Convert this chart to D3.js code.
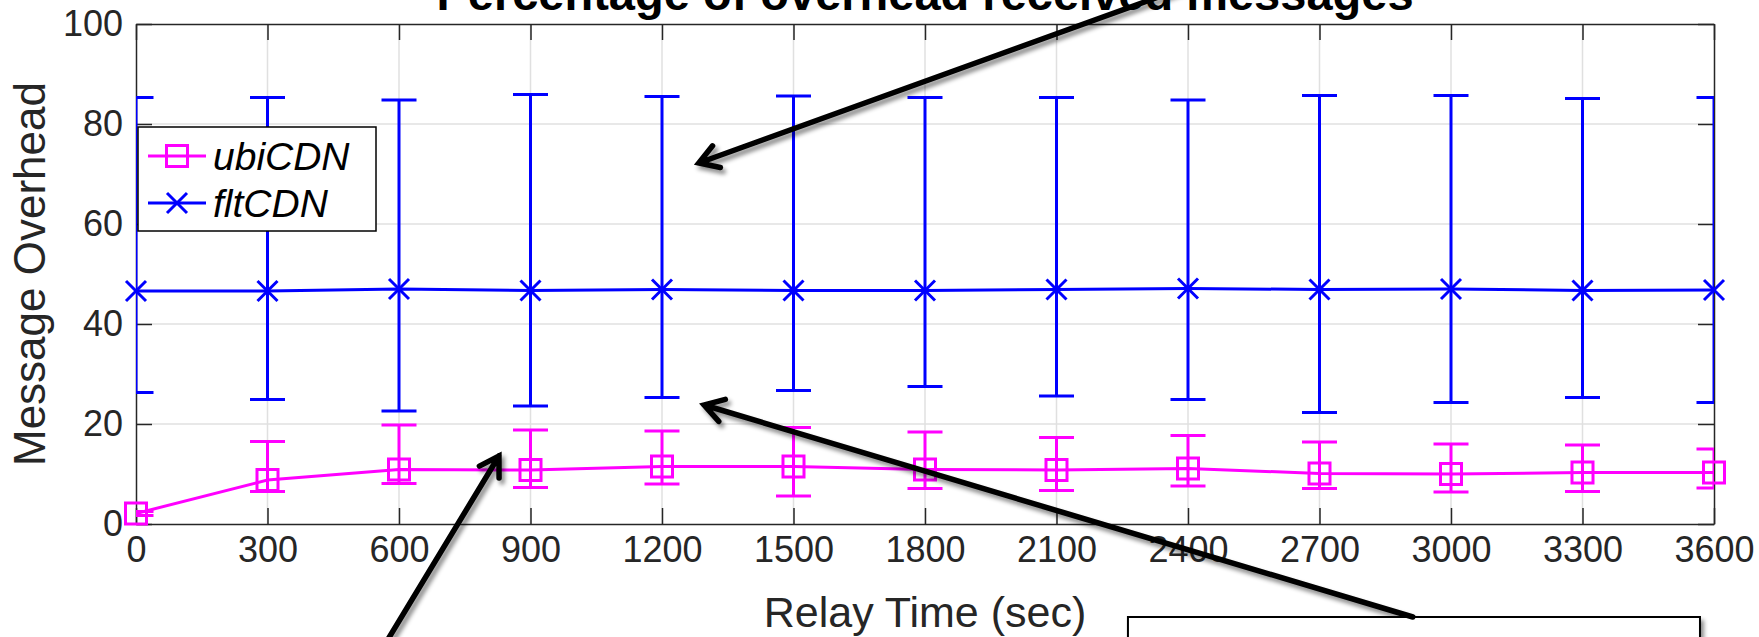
<!DOCTYPE html>
<html><head><meta charset="utf-8">
<script src="https://cdn.jsdelivr.net/npm/d3@7"></script>
<style>
body{margin:0;background:#fff}
svg{display:block}
text{font-family:"Liberation Sans",Arial,Helvetica,sans-serif}
</style>
</head><body>
<svg id="c" width="1759" height="637"></svg>
<script>
// ---- data ----
const times    = [0,300,600,900,1200,1500,1800,2100,2400,2700,3000,3300,3600];
const xTicks   = [0,300,600,900,1200,1500,1800,2100,2400,2700,3000,3300,3600];
const yTicks   = [0,20,40,60,80,100];
const seriesNames = ["ubiCDN","fltCDN"];
const ubiMean  = [2.1, 8.8,10.9,10.8,11.5,11.5,10.9,10.8,11.1,10.1,10.0,10.3,10.3];
const ubiLow   = [1.7, 6.5, 8.1, 7.3, 8.0, 5.6, 7.1, 6.7, 7.6, 7.1, 6.4, 6.5, 7.2];
const ubiHigh  = [2.5,16.5,19.8,18.8,18.6,19.3,18.4,17.3,17.7,16.4,16.0,15.8,15.0];
const fltMean  = [46.6,46.6,47.0,46.7,46.9,46.7,46.7,46.9,47.1,46.9,47.0,46.7,46.8];
const fltLow   = [26.3,24.9,22.6,23.6,25.3,26.7,27.5,25.6,24.9,22.3,24.3,25.3,24.3];
const fltHigh  = [85.3,85.3,84.8,85.9,85.5,85.6,85.3,85.3,84.8,85.7,85.7,85.1,85.3];
const titleText = "Percentage of overhead received messages";
const xLabel = "Relay Time (sec)";
const yLabel = "Message Overhead";

// ---- layout ----
const W=1759,H=637;
const P={l:136,t:24,r:1714,b:524};
const x=d3.scaleLinear().domain([0,3600]).range([P.l,P.r]);
const y=d3.scaleLinear().domain([0,100]).range([P.b,P.t]);
const AX="#262626", MAG="#ff00ff", BLU="#0000ff";
const svg=d3.select("#c");
const defs=svg.append("defs");
defs.append("clipPath").attr("id","plot").append("rect")
  .attr("x",P.l).attr("y",P.t).attr("width",P.r-P.l).attr("height",P.b-P.t);
const f=defs.append("filter").attr("id","shadow").attr("x","-20%").attr("y","-20%").attr("width","140%").attr("height","140%");
f.append("feDropShadow").attr("dx",3).attr("dy",4).attr("stdDeviation",2.2)
  .attr("flood-color","#000").attr("flood-opacity",0.45);

// grid
const grid=svg.append("g").attr("stroke","#e0e0e0").attr("stroke-width",1.5);
grid.selectAll(".gx").data(xTicks.slice(1,-1)).join("line")
  .attr("x1",d=>x(d)).attr("x2",d=>x(d)).attr("y1",P.t).attr("y2",P.b);
grid.selectAll(".gy").data(yTicks.slice(1,-1)).join("line")
  .attr("y1",d=>y(d)).attr("y2",d=>y(d)).attr("x1",P.l).attr("x2",P.r);

// axes
function styleAxis(g){
  g.select(".domain").attr("stroke",AX).attr("stroke-width",1.5);
  g.selectAll(".tick line").attr("stroke",AX).attr("stroke-width",1.5);
  g.selectAll(".tick text").attr("fill",AX).style("font-size","36px");
}
svg.append("g").attr("transform",`translate(0,${P.b})`)
  .call(d3.axisBottom(x).tickValues(xTicks).tickSize(-16).tickSizeOuter(0).tickPadding(12).tickFormat(d3.format("d")))
  .call(styleAxis);
svg.append("g").attr("transform",`translate(0,${P.t})`)
  .call(d3.axisTop(x).tickValues(xTicks).tickSize(-16).tickSizeOuter(0).tickFormat(""))
  .call(styleAxis);
svg.append("g").attr("transform",`translate(${P.l},0)`)
  .call(d3.axisLeft(y).tickValues(yTicks).tickSize(-16).tickSizeOuter(0).tickPadding(13).tickFormat(d3.format("d")))
  .call(styleAxis);
svg.append("g").attr("transform",`translate(${P.r},0)`)
  .call(d3.axisRight(y).tickValues(yTicks).tickSize(-16).tickSizeOuter(0).tickFormat(""))
  .call(styleAxis);

// labels
svg.append("text").attr("x",(P.l+P.r)/2).attr("y",627).attr("text-anchor","middle")
  .attr("fill",AX).style("font-size","43px").text(xLabel);
svg.append("text").attr("transform",`translate(45,${(P.t+P.b)/2}) rotate(-90)`).attr("text-anchor","middle")
  .attr("fill",AX).style("font-size","44px").text(yLabel);
svg.append("text").attr("x",(P.l+P.r)/2).attr("y",10).attr("text-anchor","middle")
  .attr("fill","#000").style("font-size","47px").style("font-weight","bold").text(titleText);

// series
const series=[
  {name:seriesNames[0],mean:ubiMean,lo:ubiLow,hi:ubiHigh,color:MAG,marker:"square"},
  {name:seriesNames[1],mean:fltMean,lo:fltLow,hi:fltHigh,color:BLU,marker:"x"}
];
const capW=17.5;
function drawMarker(g,type,color){
  if(type==="square"){
    g.append("rect").attr("x",-10.5).attr("y",-10.5).attr("width",21).attr("height",21)
      .attr("fill","none").attr("stroke",color).attr("stroke-width",3);
  } else {
    g.append("path").attr("d","M-10,-10L10,10M-10,10L10,-10")
      .attr("fill","none").attr("stroke",color).attr("stroke-width",3);
  }
}
series.forEach(s=>{
  const clipped=svg.append("g").attr("clip-path","url(#plot)");
  const idx=d3.range(times.length);
  clipped.append("path").datum(idx)
    .attr("d",d3.line().x(i=>x(times[i])).y(i=>y(s.mean[i])))
    .attr("fill","none").attr("stroke",s.color).attr("stroke-width",3);
  const eb=clipped.append("g").attr("stroke",s.color).attr("stroke-width",3);
  idx.forEach(i=>{
    const cx=x(times[i]);
    eb.append("line").attr("x1",cx).attr("x2",cx).attr("y1",y(s.lo[i])).attr("y2",y(s.hi[i]));
    eb.append("line").attr("x1",cx-capW).attr("x2",cx+capW).attr("y1",y(s.lo[i])).attr("y2",y(s.lo[i]));
    eb.append("line").attr("x1",cx-capW).attr("x2",cx+capW).attr("y1",y(s.hi[i])).attr("y2",y(s.hi[i]));
  });
  idx.forEach(i=>{
    const g=svg.append("g").attr("transform",`translate(${x(times[i])},${y(s.mean[i])})`);
    drawMarker(g,s.marker,s.color);
  });
});

// legend
const lg=svg.append("g");
lg.append("rect").attr("x",138).attr("y",127).attr("width",238).attr("height",104)
  .attr("fill","#fff").attr("stroke","#000").attr("stroke-width",1.5);
series.forEach((s,k)=>{
  const cy=156+k*47;
  lg.append("line").attr("x1",148).attr("x2",206).attr("y1",cy).attr("y2",cy)
    .attr("stroke",s.color).attr("stroke-width",3);
  drawMarker(lg.append("g").attr("transform",`translate(177,${cy})`),s.marker,s.color);
  lg.append("text").attr("x",213).attr("y",cy+14).style("font-size","39px").style("font-style","italic")
    .attr("fill","#000").text(s.name);
});

// annotations (in data units)
const arrows=[
  {tail:[2427,108.4],tip:[1284,72.2]},
  {tail:[2913,-18.6],tip:[1296,23.8]},
  {tail:[538,-28.4],tip:[828,13.6]}
];
const ann=svg.append("g").attr("filter","url(#shadow)");
ann.append("rect").attr("x",x(2263)).attr("y",y(-18.6)).attr("width",x(3568)-x(2263)).attr("height",40)
  .attr("fill","#fff").attr("stroke","#000").attr("stroke-width",2);
arrows.forEach(a=>{
  const [x0,y0]=[x(a.tail[0]),y(a.tail[1])], [x1,y1]=[x(a.tip[0]),y(a.tip[1])];
  const ang=Math.atan2(y1-y0,x1-x0), L=22, h=0.55;
  const p1=[x1-L*Math.cos(ang-h),y1-L*Math.sin(ang-h)];
  const p2=[x1-L*Math.cos(ang+h),y1-L*Math.sin(ang+h)];
  ann.append("path")
    .attr("d",`M${x0},${y0}L${x1},${y1}M${p1[0]},${p1[1]}L${x1},${y1}L${p2[0]},${p2[1]}`)
    .attr("fill","none").attr("stroke","#000").attr("stroke-width",5.5)
    .attr("stroke-linecap","round").attr("stroke-linejoin","miter");
});
</script>
</body></html>
